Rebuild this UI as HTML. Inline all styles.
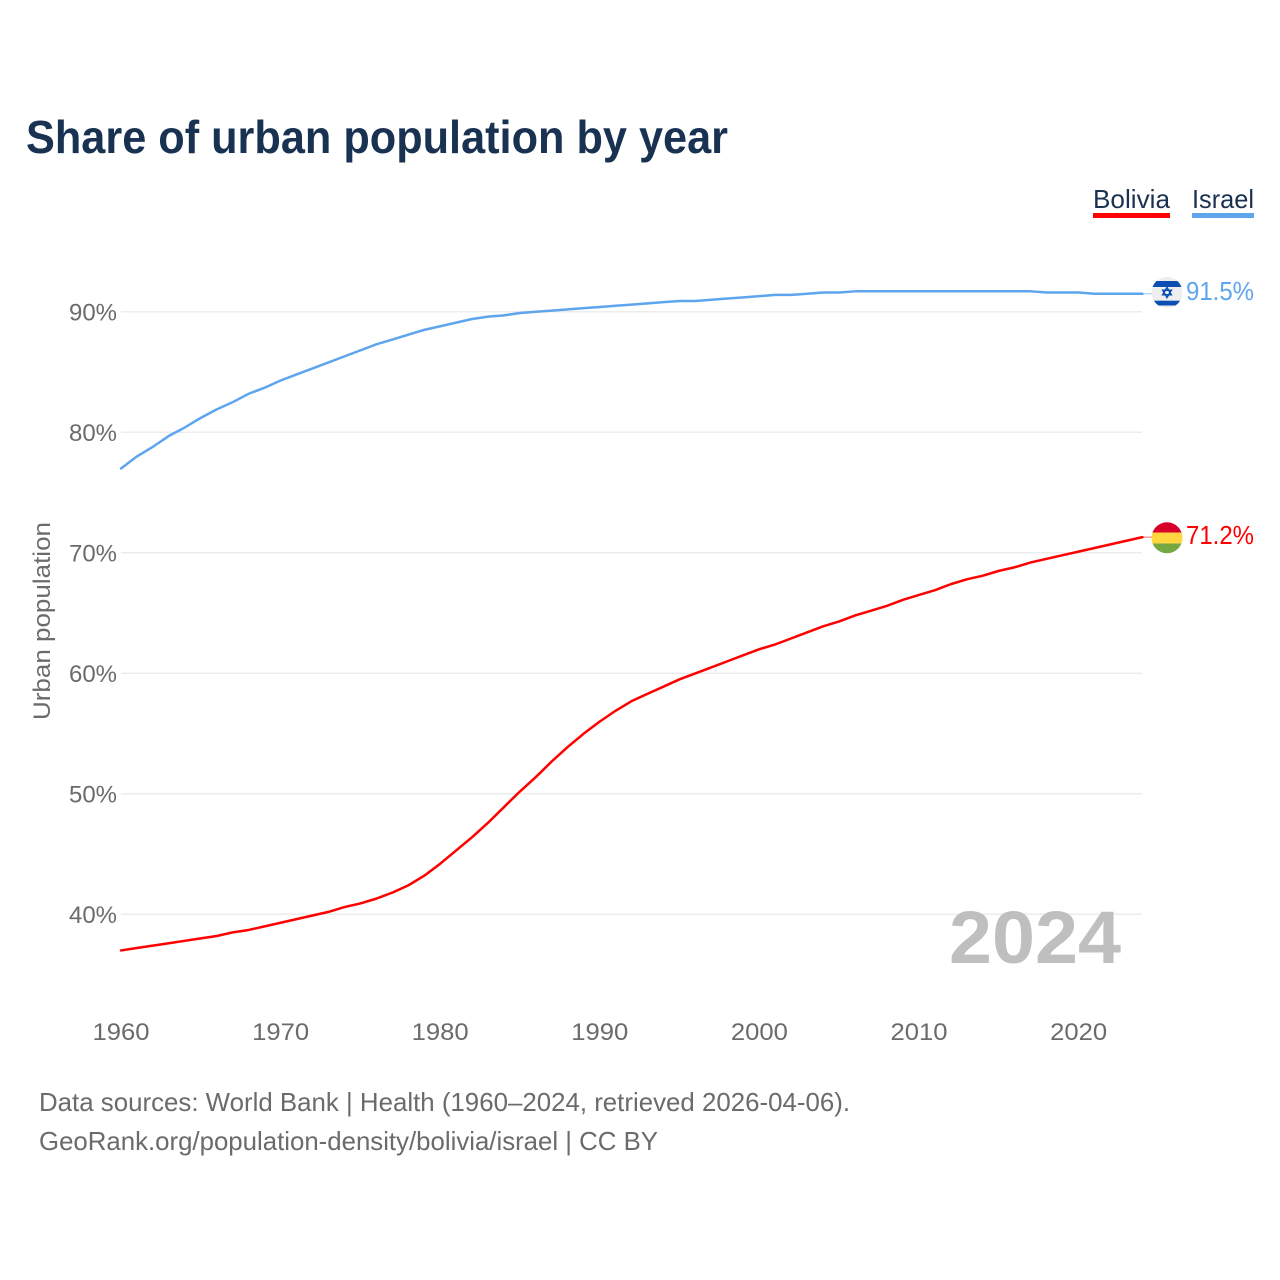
<!DOCTYPE html>
<html lang="en">
<head>
<meta charset="utf-8">
<title>Share of urban population by year</title>
<style>
html,body{margin:0;padding:0;background:#fff;}
svg{display:block;font-family:"Liberation Sans",sans-serif;}
</style>
</head>
<body>
<svg id="chart" width="1280" height="1280" viewBox="0 0 1280 1280" xmlns="http://www.w3.org/2000/svg">
  <defs>
    <clipPath id="clip-il"><circle cx="1167" cy="292.500" r="15.500"/></clipPath>
    <clipPath id="clip-bo"><circle cx="1167" cy="537.800" r="15.500"/></clipPath>
  </defs>
  <rect width="1280" height="1280" fill="#fff"/>
  <text x="26" y="153" font-size="46" font-weight="700" fill="#1a3252" textLength="702" lengthAdjust="spacingAndGlyphs">Share of urban population by year</text>

  <g>
    <text x="1093" y="208" font-size="26" fill="#1a3252" textLength="77" lengthAdjust="spacingAndGlyphs">Bolivia</text>
    <rect x="1093" y="213" width="77" height="5" fill="#ff0000"/>
  </g>
  <g>
    <text x="1192" y="208" font-size="26" fill="#1a3252" textLength="62" lengthAdjust="spacingAndGlyphs">Israel</text>
    <rect x="1192" y="213" width="62" height="5" fill="#5fa5ee"/>
  </g>

  <g id="grid"></g>
  <g id="yticks"></g>
  <g id="xticks"></g>

  <text transform="translate(50,720) rotate(-90)" font-size="24" fill="#6b6b6b" textLength="198" lengthAdjust="spacingAndGlyphs">Urban population</text>

  <text id="year-watermark" x="949" y="963" font-size="74" font-weight="700" fill="#bfbfbf" textLength="172" lengthAdjust="spacingAndGlyphs">2024</text>

  <g id="series"></g>

  <g>
    <circle cx="1167" cy="292.500" r="15.500" fill="#eeeeee"/>
    <g clip-path="url(#clip-il)">
      <rect x="1151" y="281" width="32" height="6" fill="#0b4fb3"/>
      <rect x="1151" y="300.700" width="32" height="4.800" fill="#0b4fb3"/>
    </g>
    <path d="M1167 287.500l4.300 7.200h-8.600zM1167 297.500l-4.300-7.200h8.600z" fill="none" stroke="#0b4fb3" stroke-width="1.500"/>
  </g>
  <g>
    <g clip-path="url(#clip-bo)">
      <rect x="1151" y="522" width="32" height="10.500" fill="#d6002a"/>
      <rect x="1151" y="532.500" width="32" height="11" fill="#ffd63f"/>
      <rect x="1151" y="543.500" width="32" height="10" fill="#75a843"/>
    </g>
  </g>

  <text id="value-israel" x="1186" y="300" font-size="26" fill="#5fa5ee" textLength="68" lengthAdjust="spacingAndGlyphs">91.5%</text>
  <text id="value-bolivia" x="1186" y="544" font-size="26" fill="#ff0000" textLength="68" lengthAdjust="spacingAndGlyphs">71.2%</text>

  <text x="39" y="1111" font-size="26" fill="#6b6b6b" textLength="811" lengthAdjust="spacingAndGlyphs">Data sources: World Bank | Health (1960–2024, retrieved 2026-04-06).</text>
  <a><text x="39" y="1150" font-size="26" fill="#6b6b6b" textLength="619" lengthAdjust="spacingAndGlyphs">GeoRank.org/population-density/bolivia/israel | CC BY</text></a>

<script>
const startYear = 1960;
const yTickValues = [40, 50, 60, 70, 80, 90];
const xTickYears = [1960, 1970, 1980, 1990, 2000, 2010, 2020];
const israelValues = [77.0,78.0,78.8,79.7,80.4,81.2,81.9,82.5,83.2,83.7,84.3,84.8,85.3,85.8,86.3,86.8,87.3,87.7,88.1,88.5,88.8,89.1,89.4,89.6,89.7,89.9,90.0,90.1,90.2,90.3,90.4,90.5,90.6,90.7,90.8,90.9,90.9,91.0,91.1,91.2,91.3,91.4,91.4,91.5,91.6,91.6,91.7,91.7,91.7,91.7,91.7,91.7,91.7,91.7,91.7,91.7,91.7,91.7,91.6,91.6,91.6,91.5,91.5,91.5,91.5];
const boliviaValues = [37.0,37.2,37.4,37.6,37.8,38.0,38.2,38.5,38.7,39.0,39.3,39.6,39.9,40.2,40.6,40.9,41.3,41.8,42.4,43.2,44.2,45.3,46.4,47.6,48.9,50.2,51.4,52.7,53.9,55.0,56.0,56.9,57.7,58.3,58.9,59.5,60.0,60.5,61.0,61.5,62.0,62.4,62.9,63.4,63.9,64.3,64.8,65.2,65.6,66.1,66.5,66.9,67.4,67.8,68.1,68.5,68.8,69.2,69.5,69.8,70.1,70.4,70.7,71.0,71.3];

const NS = 'http://www.w3.org/2000/svg';
const xScale = function (year) { return 121 + (year - 1960) * 15.96; };
const yScale = function (v) { return 914.3 - (v - 40) * 12.05; };

function make(tag, attrs, parent) {
  const el = document.createElementNS(NS, tag);
  Object.keys(attrs).forEach(function (k) { el.setAttribute(k, attrs[k]); });
  parent.appendChild(el);
  return el;
}

const gridG = document.getElementById('grid');
const yG = document.getElementById('yticks');
yTickValues.forEach(function (v) {
  const line = make('line', {x1: 121, x2: 1142, y1: yScale(v), y2: yScale(v), stroke: '#ececec', 'stroke-width': 1.5}, gridG);
  
  
  const t = make('text', {x: 117, y: yScale(v) + 8.7, 'font-size': 24, fill: '#6b6b6b', 'text-anchor': 'end', textLength: 48, lengthAdjust: 'spacingAndGlyphs'}, yG);
  
  
  t.textContent = v + '%';
});

const xG = document.getElementById('xticks');
xTickYears.forEach(function (yr) {
  const t = make('text', {x: xScale(yr) - 28.5, y: 1040, 'font-size': 24, fill: '#6b6b6b', textLength: 57, lengthAdjust: 'spacingAndGlyphs'}, xG);
  
  
  t.textContent = yr;
});

function drawSeries(values, color, name) {
  const seriesG = document.getElementById('series');
  const pts = values.map(function (v, i) { return xScale(startYear + i).toFixed(2) + ',' + yScale(v).toFixed(2); });
  const line = make('polyline', {points: pts.join(' '), fill: 'none', stroke: color, 'stroke-width': 2.5, 'stroke-linejoin': 'round', 'stroke-linecap': 'round'}, seriesG);
  
  
  const lastY = yScale(values[values.length - 1]);
  const conn = make('line', {x1: xScale(startYear + values.length - 1), x2: 1152, y1: lastY, y2: lastY, stroke: color, 'stroke-width': 1, opacity: 0.6}, seriesG);
  
  
}
drawSeries(israelValues, '#5fa5ee', 'line-israel');
drawSeries(boliviaValues, '#ff0000', 'line-bolivia');
</script>
</svg>
</body>
</html>
